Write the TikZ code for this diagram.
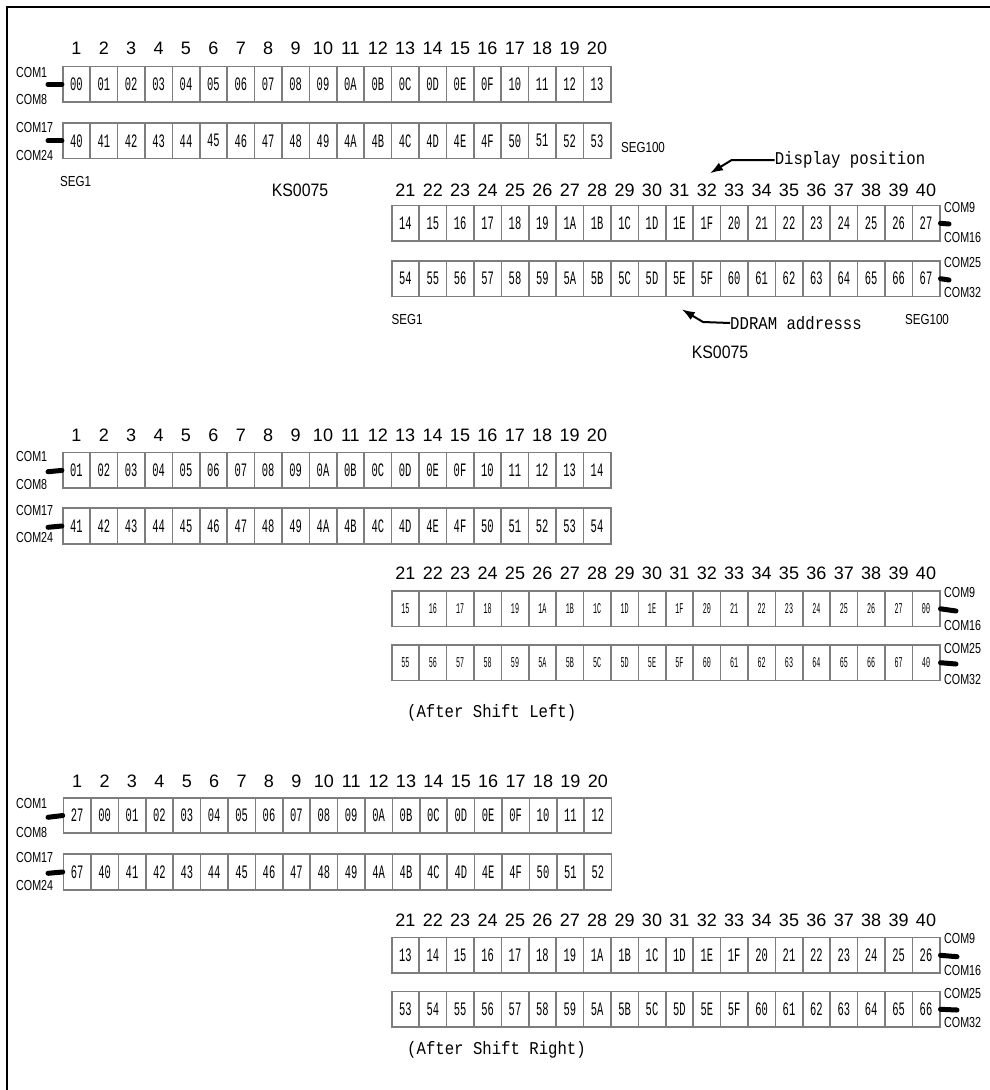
\documentclass[tikz,border=0pt]{standalone}
\usepackage{graphicx}
\usepackage{fontspec}
\setmainfont{Liberation Sans}
\newfontfamily\monofnt{Liberation Mono}
\usetikzlibrary{arrows.meta}
\definecolor{cellgray}{RGB}{125,125,125}
\tikzset{
 cell/.style={draw=cellgray, line width=1.6pt, minimum width=27.4pt, minimum height=35.5pt, inner sep=0pt, font=\monofnt\fontsize{19}{19}\selectfont},
 cellsm/.style={font=\monofnt\fontsize{15}{15}\selectfont},
 colnum/.style={font=\fontsize{18}{18}\selectfont, inner sep=0pt},
 comlbl/.style={font=\fontsize{14.5}{14.5}\selectfont, inner sep=0pt, anchor=west},
 seglbl/.style={font=\fontsize{14.5}{14.5}\selectfont, inner sep=0pt},
 kslbl/.style={font=\fontsize{18}{18}\selectfont, inner sep=0pt},
 bar/.style={line width=5pt, line cap=round},
 note/.style={font=\monofnt\fontsize{18}{18}\selectfont, inner sep=0pt},
 pointer/.style={line width=2pt, -{Latex[length=13pt,width=9pt]}},
 frameline/.style={line width=2pt},
}
\newcommand\lb[1]{\scalebox{0.74}[1]{#1}}
\newcommand\sg[1]{\scalebox{0.8}[1]{#1}}
\newcommand\nt[1]{\scalebox{0.87}[1]{#1}}
\newcommand\cellrow[6]{%
 \foreach \v [count=\i] in {#4} {
   \node[cell,#5] (#1-\i) at ({#2+(\i-0.5)*27.4},#3) {\scalebox{#6}[1]{\v}};
 }}
\newcommand\colnums[4]{%
 \foreach \i in {1,...,20} {
   \pgfmathtruncatemacro\n{\i+#4}
   \node[colnum] (#1-\i) at ({#2+(\i-0.5)*27.4},#3) {\n};
 }}
\begin{document}
\begin{tikzpicture}[x=1pt,y=-1pt]
\useasboundingbox (0,0) rectangle (989,1090);
\draw[frameline] (7,1095) -- (7,7) -- (995,7);

% ===== Section 1 =====
\colnums{nA}{62.7}{48}{0}
\cellrow{aL1}{62.7}{84.2}{00,01,02,03,04,05,06,07,08,09,0A,0B,0C,0D,0E,0F,10,11,12,13}{}{0.55}
\cellrow{aL2}{62.7}{140.8}{40,41,42,43,44,45,46,47,48,49,4A,4B,4C,4D,4E,4F,50,51,52,53}{}{0.55}
\colnums{nB}{391.7}{190.7}{20}
\cellrow{aR1}{391.7}{223.3}{14,15,16,17,18,19,1A,1B,1C,1D,1E,1F,20,21,22,23,24,25,26,27}{}{0.55}
\cellrow{aR2}{391.7}{278.7}{54,55,56,57,58,59,5A,5B,5C,5D,5E,5F,60,61,62,63,64,65,66,67}{}{0.55}

\node[comlbl] (aC1) at (16,73) {\lb{COM1}};
\node[comlbl] (aC8) at (16,100) {\lb{COM8}};
\node[comlbl] (aC17) at (16,128) {\lb{COM17}};
\node[comlbl] (aC24) at (16,156) {\lb{COM24}};
\coordinate (aB1) at (48,84.2);
\coordinate (aB2) at (48,140.8);
\draw[bar] (aB1) -- (aL1-1.west);
\draw[bar] (aB2) -- (aL2-1.west);

\node[comlbl] (aC9) at (944,208) {\lb{COM9}};
\node[comlbl] (aC16) at (944,238) {\lb{COM16}};
\node[comlbl] (aC25) at (944,263) {\lb{COM25}};
\node[comlbl] (aC32) at (944,293) {\lb{COM32}};
\coordinate (aB3) at (949,224);
\coordinate (aB4) at (949,280);
\draw[bar] (aR1-20.east) -- (aB3);
\draw[bar] (aR2-20.east) -- (aB4);

\node[seglbl] (aS1) at (75.5,182) {\sg{SEG1}};
\node[kslbl] (aK1) at (300,190) {\scalebox{0.88}[1]{KS0075}};
\node[seglbl] (aS100) at (643,148) {\sg{SEG100}};
\node[seglbl] (aS1b) at (407,320) {\sg{SEG1}};
\node[seglbl] (aS100b) at (927,320) {\sg{SEG100}};
\node[kslbl] (aK2) at (720,352) {\scalebox{0.88}[1]{KS0075}};

\node[note] (disp) at (850,160) {\nt{Display position}};
\coordinate (dispbend) at (731.7,160);
\coordinate (disptip) at (710,173.3);
\draw[pointer] (disp.west) -- (dispbend) -- (disptip);

\node[note] (ddram) at (796,323) {\nt{DDRAM addresss}};
\coordinate (ddbend) at (703,322);
\coordinate (ddtip) at (681.7,309.3);
\draw[pointer] (ddram.west) -- (ddbend) -- (ddtip);

% ===== Section 2 =====
\colnums{nC}{62.7}{435}{0}
\cellrow{bL1}{62.7}{470.4}{01,02,03,04,05,06,07,08,09,0A,0B,0C,0D,0E,0F,10,11,12,13,14}{}{0.55}
\cellrow{bL2}{62.7}{526}{41,42,43,44,45,46,47,48,49,4A,4B,4C,4D,4E,4F,50,51,52,53,54}{}{0.55}
\colnums{nD}{391.7}{573}{20}
\cellrow{bR1}{391.7}{608.8}{15,16,17,18,19,1A,1B,1C,1D,1E,1F,20,21,22,23,24,25,26,27,00}{cellsm}{0.45}
\cellrow{bR2}{391.7}{662.7}{55,56,57,58,59,5A,5B,5C,5D,5E,5F,60,61,62,63,64,65,66,67,40}{cellsm}{0.45}

\node[comlbl] (bC1) at (16,457) {\lb{COM1}};
\node[comlbl] (bC8) at (16,485) {\lb{COM8}};
\node[comlbl] (bC17) at (16,511) {\lb{COM17}};
\node[comlbl] (bC24) at (16,538) {\lb{COM24}};
\coordinate (bB1) at (48,471.7);
\coordinate (bB2) at (48,527.3);
\draw[bar] (bB1) -- (bL1-1.west);
\draw[bar] (bB2) -- (bL2-1.west);

\node[comlbl] (bC9) at (944,593) {\lb{COM9}};
\node[comlbl] (bC16) at (944,625) {\lb{COM16}};
\node[comlbl] (bC25) at (944,648) {\lb{COM25}};
\node[comlbl] (bC32) at (944,679) {\lb{COM32}};
\coordinate (bB3) at (956,611);
\coordinate (bB4) at (956,664);
\draw[bar] (bR1-20.east) -- (bB3);
\draw[bar] (bR2-20.east) -- (bB4);

\node[note] (bShift) at (491.7,713) {\nt{(After Shift Left)}};

% ===== Section 3 =====
\colnums{nE}{63.5}{781.7}{0}
\cellrow{cL1}{63.5}{815.5}{27,00,01,02,03,04,05,06,07,08,09,0A,0B,0C,0D,0E,0F,10,11,12}{}{0.55}
\cellrow{cL2}{63.5}{872}{67,40,41,42,43,44,45,46,47,48,49,4A,4B,4C,4D,4E,4F,50,51,52}{}{0.55}
\colnums{nF}{391.7}{920}{20}
\cellrow{cR1}{391.7}{955.3}{13,14,15,16,17,18,19,1A,1B,1C,1D,1E,1F,20,21,22,23,24,25,26}{}{0.55}
\cellrow{cR2}{391.7}{1009.3}{53,54,55,56,57,58,59,5A,5B,5C,5D,5E,5F,60,61,62,63,64,65,66}{}{0.55}

\node[comlbl] (cC1) at (16,803) {\lb{COM1}};
\node[comlbl] (cC8) at (16,832) {\lb{COM8}};
\node[comlbl] (cC17) at (16,857) {\lb{COM17}};
\node[comlbl] (cC24) at (16,885) {\lb{COM24}};
\coordinate (cB1) at (48,817.3);
\coordinate (cB2) at (48,873.3);
\draw[bar] (cB1) -- (cL1-1.west);
\draw[bar] (cB2) -- (cL2-1.west);

\node[comlbl] (cC9) at (944,938) {\lb{COM9}};
\node[comlbl] (cC16) at (944,970) {\lb{COM16}};
\node[comlbl] (cC25) at (944,993) {\lb{COM25}};
\node[comlbl] (cC32) at (944,1022) {\lb{COM32}};
\coordinate (cB3) at (957,956.7);
\coordinate (cB4) at (957,1010);
\draw[bar] (cR1-20.east) -- (cB3);
\draw[bar] (cR2-20.east) -- (cB4);

\node[note] (cShift) at (496.5,1050) {\nt{(After Shift Right)}};
\end{tikzpicture}
\end{document}
